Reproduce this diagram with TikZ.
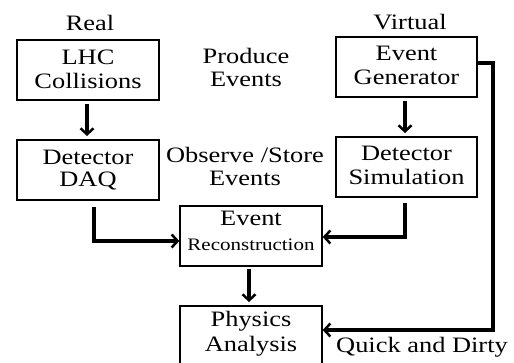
\documentclass[tikz,border=0pt]{standalone}
\usepackage{fontspec}
\setmainfont{Liberation Serif}[FakeStretch=1.2]
\usetikzlibrary{arrows.meta}
\begin{document}
\begin{tikzpicture}[x=1pt,y=-1pt,
  box/.style={draw, line width=1.3pt, inner sep=0pt},
  lbl/.style={font=\fontsize{22}{24}\selectfont, align=center, inner sep=0pt},
  arr/.style={line width=4pt, -{Straight Barb[length=6pt,width=13pt,line width=2.5pt]}}]
\useasboundingbox (0,0) rectangle (514,363);
\fill[white] (0,0) rectangle (514,363);
% boxes
\node[box, minimum width=142pt, minimum height=60pt] (lhc) at (88,70) {};
\node[box, minimum width=142pt, minimum height=60pt] (daq) at (88,170) {};
\node[box, minimum width=141pt, minimum height=60pt] (gen) at (406.5,67) {};
\node[box, minimum width=141pt, minimum height=60pt] (sim) at (406.5,167) {};
\node[box, minimum width=142pt, minimum height=60pt] (rec) at (251,236) {};
\node[box, minimum width=142pt, minimum height=60pt] (phy) at (251,336) {};
% box texts
\node[lbl] at (88,57) {LHC};
\node[lbl] at (88,81) {Collisions};
\node[lbl] at (88,157) {Detector};
\node[lbl] at (88,181) {DAQ};
\node[lbl] at (406.5,53) {Event};
\node[lbl] at (406.5,77) {Generator};
\node[lbl] at (406.5,153) {Detector};
\node[lbl] at (406.5,177) {Simulation};
\node[lbl] (rect) at (251,218) {Event};
\node[lbl, font=\fontsize{17.5}{19}\selectfont] (recb) at (251,245) {Reconstruction};
\node[lbl] at (251,321) {Physics};
\node[lbl] at (251,346) {Analysis};
% free labels
\node[lbl] (real) at (90,23) {Real};
\node[lbl] (virt) at (410,22) {Virtual};
\node[lbl] (prod) at (246,56) {Produce};
\node[lbl] (prodb) at (246,79) {Events};
\node[lbl] (obs) at (245,155) {Observe /Store};
\node[lbl] (obsb) at (245,178) {Events};
\node[lbl] (qd) at (422,347) {Quick and Dirty};
% arrows
\coordinate (c1) at (94,241);
\coordinate (c2) at (405,237);
\coordinate (c3) at (493,63);
\coordinate (c4) at (493,330);
\draw[arr] (87,104) -- (87,136);
\draw[arr] (405,101) -- (405,133);
\draw[arr] (94,207) -- (c1) -- (rec.west |- c1);
\draw[arr] (405,203) -- (c2) -- (rec.east |- c2);
\draw[arr] (249,269) -- (249,302);
\draw[arr] (gen.east |- c3) -- (c3) -- (c4) -- (phy.east |- c4);
\end{tikzpicture}
\end{document}
